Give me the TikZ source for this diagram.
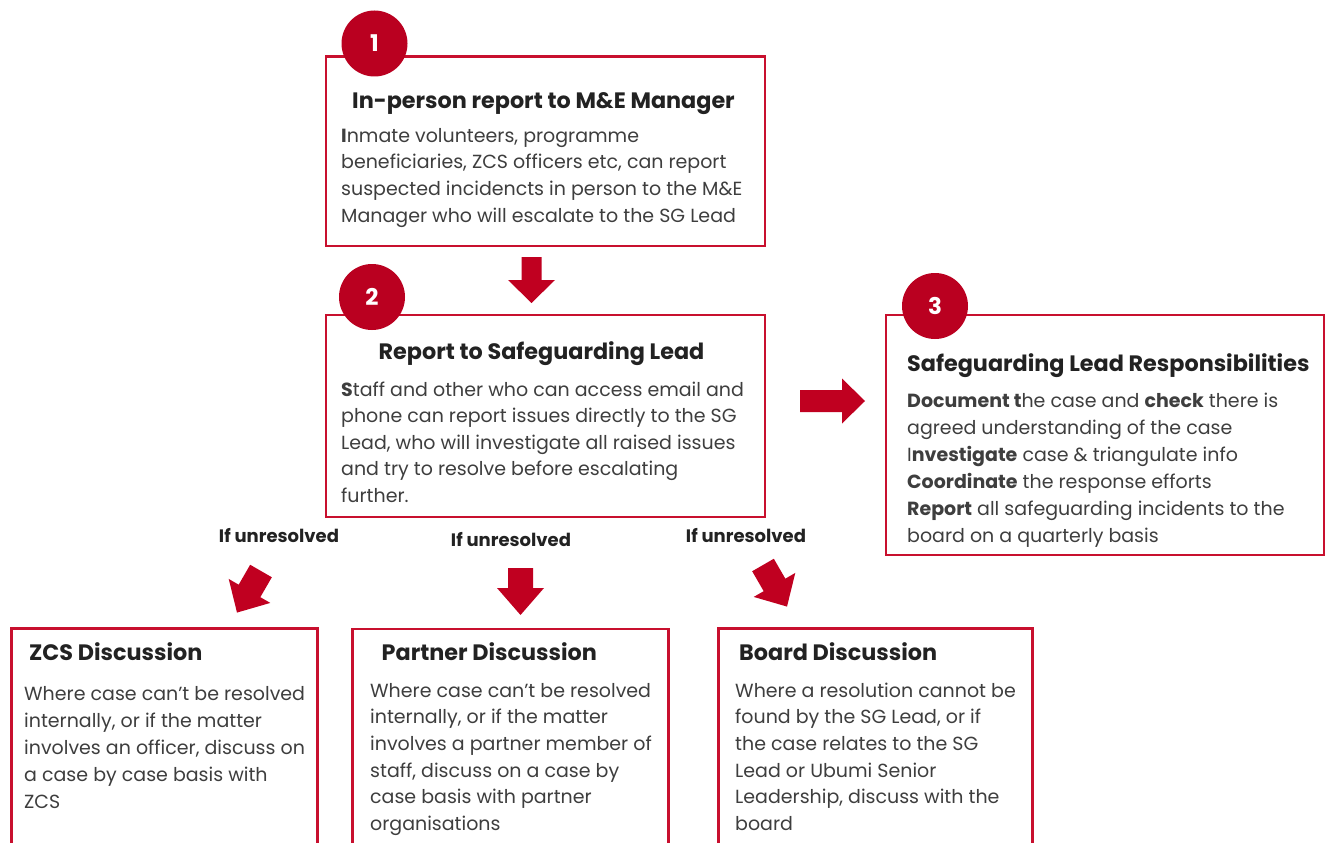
\documentclass[tikz,border=0pt]{standalone}
\usepackage{fontspec}
\setmainfont{Poppins}
\definecolor{boxred}{HTML}{C8102E}
\definecolor{numred}{HTML}{BA0020}
\definecolor{arrowred}{HTML}{C00020}
\definecolor{titlegray}{HTML}{222222}
\definecolor{bodygray}{HTML}{3E3E3E}
\tikzset{
  box/.style={draw=boxred, line width=2.6pt, fill=white, inner sep=0pt, anchor=north west},
  num/.style={circle, fill=numred, text=white, minimum size=66pt, inner sep=0pt,
    font=\fontsize{23}{23}\selectfont\bfseries},
  ttl/.style={text=titlegray, inner sep=0pt, font=\fontsize{22.3}{25}\selectfont\bfseries},
  bodytxt/.style={text=bodygray, inner sep=0pt, anchor=base west},
  lbl/.style={text=titlegray, inner sep=0pt, font=\fontsize{18}{20}\selectfont\bfseries},
  pics/blockarrow/.style n args={4}{code={%
    \fill[arrowred] (0,-#2/2) -- ({#1-#4},-#2/2) -- ({#1-#4},-#3/2) -- (#1,0)
      -- ({#1-#4},#3/2) -- ({#1-#4},#2/2) -- (0,#2/2) -- cycle;}}
}
% body text block: fixed line pitch, baseline on its first line
\newcommand{\bodyblock}[2]{{\fontsize{19}{#1}\selectfont
  \begin{tabular}[t]{@{}l@{}}#2\end{tabular}}}
\begin{document}
\begin{tikzpicture}[x=1pt, y=-1pt]
\useasboundingbox (0,0) rectangle (1325,843);
\fill[white] (0,0) rectangle (1325,843);

% ---- boxes ----
\node[box, minimum width=439pt, minimum height=189pt] (b1) at (324.5,55.5) {};
\node[box, minimum width=439pt, minimum height=202pt] (b2) at (324.5,313.5) {};
\node[box, minimum width=438pt, minimum height=240pt] (b3) at (884.5,313.5) {};
\node[box, minimum width=306pt, minimum height=260pt] (b4) at (10,627) {};
\node[box, minimum width=316pt, minimum height=260pt] (b5) at (351,627.5) {};
\node[box, minimum width=314pt, minimum height=260pt] (b6) at (717,627) {};

% ---- step numbers ----
\node[num] (n1) at (374.5,43.5) {1};
\node[num] (n2) at (372,297) {2};
\node[num] (n3) at (935,306) {3};

% ---- step 1 ----
\node[ttl, anchor=base] (t1) at (543.5,108.5) {In-person report to M\&E Manager};
\node[bodytxt] (d1) at (341,142) {\bodyblock{26.7pt}{%
  \textbf{I}nmate volunteers, programme\\
  beneficiaries, ZCS officers etc, can report\\
  suspected incidencts in person to the M\&E\\
  Manager who will escalate to the SG Lead}};

% ---- step 2 ----
\node[ttl, anchor=base] (t2) at (541.5,359) {Report to Safeguarding Lead};
\node[bodytxt] (d2) at (341,396.5) {\bodyblock{26.4pt}{%
  \textbf{S}taff and other who can access email and\\
  phone can report issues directly to the SG\\
  Lead, who will investigate all raised issues\\
  and try to resolve before escalating\\
  further.}};

% ---- step 3 ----
\node[ttl, anchor=base west] (t3) at (907,371) {Safeguarding Lead Responsibilities};
\node[bodytxt] (d3) at (907,407) {\bodyblock{27pt}{%
  \textbf{Document t}he case and \textbf{check} there is\\
  agreed understanding of the case\\
  I\textbf{nvestigate} case \& triangulate info\\
  \textbf{Coordinate} the response efforts\\
  \textbf{Report} all safeguarding incidents to the\\
  board on a quarterly basis}};

% ---- escalation labels ----
\node[lbl] (u1) at (279,536) {If unresolved};
\node[lbl] (u2) at (511,540) {If unresolved};
\node[lbl] (u3) at (746,536) {If unresolved};

% ---- discussion boxes ----
\node[ttl, anchor=base west] (t4) at (29,660) {ZCS Discussion};
\node[bodytxt] (d4) at (24,700) {\bodyblock{27pt}{%
  Where case can't be resolved\\
  internally, or if the matter\\
  involves an officer, discuss on\\
  a case by case basis with\\
  ZCS}};

\node[ttl, anchor=base west] (t5) at (381.5,660) {Partner Discussion};
\node[bodytxt] (d5) at (370,697) {\bodyblock{26.7pt}{%
  Where case can't be resolved\\
  internally, or if the matter\\
  involves a partner member of\\
  staff, discuss on a case by\\
  case basis with partner\\
  organisations}};

\node[ttl, anchor=base west] (t6) at (739,660) {Board Discussion};
\node[bodytxt] (d6) at (735,697) {\bodyblock{26.7pt}{%
  Where a resolution cannot be\\
  found by the SG Lead, or if\\
  the case relates to the SG\\
  Lead or Ubumi Senior\\
  Leadership, discuss with the\\
  board}};

% ---- block arrows between the steps ----
\pic[rotate=-90] (a12) at (531.5,257) {blockarrow={46}{20}{47}{23}};
\pic (a23) at (800,401) {blockarrow={65}{22}{45}{23}};
\pic[rotate=-120] (a24) at (261,571) {blockarrow={48}{25}{48}{25}};
\pic[rotate=-90] (a25) at (520.5,568) {blockarrow={47}{25}{47}{27}};
\pic[rotate=-60] (a26) at (763,565) {blockarrow={48}{25}{48}{25}};
\end{tikzpicture}
\end{document}
